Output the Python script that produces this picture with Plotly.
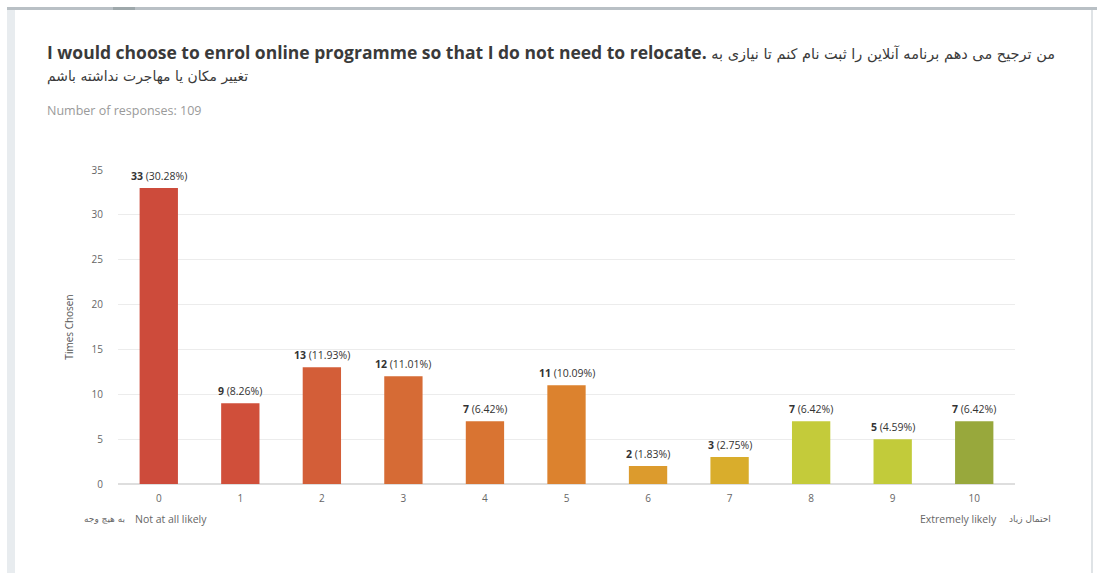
import plotly.graph_objects as go

# Survey results: likelihood scale 0-10
categories = ["0", "1", "2", "3", "4", "5", "6", "7", "8", "9", "10"]
counts = [33, 9, 13, 12, 7, 11, 2, 3, 7, 5, 7]
percents = ["30.28%", "8.26%", "11.93%", "11.01%", "6.42%", "10.09%",
            "1.83%", "2.75%", "6.42%", "4.59%", "6.42%"]
bar_colors = ["#cd4b3b", "#d04f3a", "#d35e38", "#d66b35", "#d97432", "#dc822e",
              "#dc9b2d", "#d9ad2c", "#c4cb3a", "#c2cb3a", "#98a83c"]

title_en = "I would choose to enrol online programme so that I do not need to relocate."
title_fa = "من ترجیح می دهم برنامه آنلاین را ثبت نام کنم تا نیازی به"
title_line2 = "تغییر مکان یا مهاجرت نداشته باشم"
subtitle = "Number of responses: 109"
low_label = "Not at all likely"
low_label_fa = "به هیچ وجه"
high_label = "Extremely likely"
high_label_fa = "احتمال زیاد"

W, H = 1097, 573
L, R, T, B = 118, 82, 170, 89
PW, PH = W - L - R, H - T - B


def px(x):
    return (x - L) / PW


def py(y):
    return (H - B - y) / PH


fig = go.Figure()
fig.add_trace(go.Bar(
    x=categories, y=counts, marker=dict(color=bar_colors, line=dict(width=0)),
    width=0.47, hoverinfo="skip",
))

annotations = []
for c, v, p in zip(categories, counts, percents):
    annotations.append(dict(
        x=c, y=v, xref="x", yref="y", text=f"<b>{v}</b> ({p})",
        showarrow=False, yanchor="bottom", yshift=3,
        font=dict(family="Open Sans", size=10.5, color="#333333"),
    ))

annotations += [
    dict(x=px(45), y=py(52), xref="paper", yref="paper", xanchor="left", yanchor="middle",
         text=(f"<b>{title_en}</b> "
               f"<span style=\"font-family:'DejaVu Sans';font-size:14.5px\">{title_fa}</span>"),
         showarrow=False,
         font=dict(family="Open Sans", size=17.5, color="#3a3a3a")),
    dict(x=px(45), y=py(76), xref="paper", yref="paper", xanchor="left", yanchor="middle",
         text=title_line2, showarrow=False,
         font=dict(family="DejaVu Sans", size=13.9, color="#3a3a3a")),
    dict(x=px(45), y=py(111), xref="paper", yref="paper", xanchor="left", yanchor="middle",
         text=subtitle, showarrow=False,
         font=dict(family="Open Sans", size=12.5, color="#9a9a9a")),
    dict(x=px(133), y=py(519), xref="paper", yref="paper", xanchor="left", yanchor="middle",
         text=low_label, showarrow=False,
         font=dict(family="Open Sans", size=10.5, color="#666666")),
    dict(x=px(127), y=py(519), xref="paper", yref="paper", xanchor="right", yanchor="middle",
         text=low_label_fa, showarrow=False,
         font=dict(family="DejaVu Sans", size=9, color="#666666")),
    dict(x=px(999), y=py(519), xref="paper", yref="paper", xanchor="right", yanchor="middle",
         text=high_label, showarrow=False,
         font=dict(family="Open Sans", size=10.5, color="#666666")),
    dict(x=px(1007), y=py(519), xref="paper", yref="paper", xanchor="left", yanchor="middle",
         text=high_label_fa, showarrow=False,
         font=dict(family="DejaVu Sans", size=9, color="#666666")),
]

# card frame: left strip, top bar with tab accent, right edge
shapes = [
    dict(type="rect", xref="paper", yref="paper", x0=px(7), x1=px(15), y0=py(573), y1=py(9),
         fillcolor="#e8ecef", line=dict(width=0), layer="below"),
    dict(type="rect", xref="paper", yref="paper", x0=px(7), x1=px(1097), y0=py(10), y1=py(7),
         fillcolor="#b9c0c5", line=dict(width=0)),
    dict(type="rect", xref="paper", yref="paper", x0=px(113), x1=px(135), y0=py(10), y1=py(7),
         fillcolor="#9ea8ab", line=dict(width=0)),
    dict(type="rect", xref="paper", yref="paper", x0=px(1091), x1=px(1093), y0=py(573), y1=py(10),
         fillcolor="#dfe3e6", line=dict(width=0)),
]

fig.update_layout(
    width=W, height=H, margin=dict(l=L, r=R, t=T, b=B, autoexpand=False),
    paper_bgcolor="white", plot_bgcolor="white", showlegend=False,
    annotations=annotations, shapes=shapes, bargap=0.53,
    font=dict(family="Open Sans", color="#666666"),
)
fig.update_xaxes(
    type="category", range=[-0.5, 10.5], showgrid=False, ticks="",
    tickfont=dict(size=10, color="#666666"), showline=False, zeroline=False,
    ticklabelstandoff=7,
)
fig.update_yaxes(
    range=[0, 35], dtick=5, showgrid=True, gridcolor="#ececec", gridwidth=1,
    zeroline=True, zerolinecolor="#dedede", zerolinewidth=2,
    tickfont=dict(size=10, color="#666666"), ticks="", ticklabelstandoff=14,
    title=dict(text="Times Chosen", font=dict(size=10, color="#555555"), standoff=16),
)

fig.write_html("out.html")
